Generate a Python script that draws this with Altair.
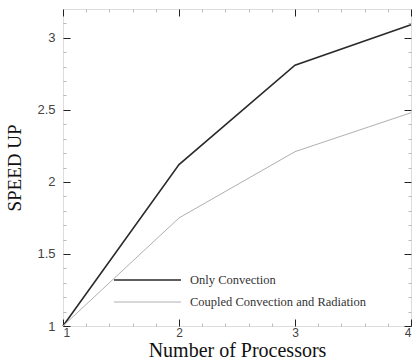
import altair as alt
import pandas as pd

processors = [1, 2, 3, 4]
only_convection = [1.0, 2.12, 2.81, 3.09]
coupled = [1.0, 1.75, 2.21, 2.48]
series_names = ["Only Convection", "Coupled Convection and Radiation"]

rows = []
for p, v in zip(processors, only_convection):
    rows.append({"p": p, "s": v, "series": series_names[0]})
for p, v in zip(processors, coupled):
    rows.append({"p": p, "s": v, "series": series_names[1]})
df = pd.DataFrame(rows)

x_major = [1, 2, 3, 4]
y_major = [1, 1.5, 2, 2.5, 3]
x_minor = [1.2, 1.4, 1.6, 1.8, 2.2, 2.4, 2.6, 2.8, 3.2, 3.4, 3.6, 3.8]
y_minor = [1.1, 1.2, 1.3, 1.4, 1.6, 1.7, 1.8, 1.9, 2.1, 2.2, 2.3, 2.4, 2.6, 2.7, 2.8, 2.9, 3.1]

xs = alt.Scale(domain=[1, 4], nice=False, zero=False)
ys = alt.Scale(domain=[1, 3.2], nice=False, zero=False)

base = alt.Chart(df)

main = base.mark_line().encode(
    x=alt.X("p:Q", scale=xs, axis=alt.Axis(
        title="Number of Processors", values=x_major, ticks=False, domain=False, format="~g",
        labelFont="Liberation Sans", labelFontSize=12, labelColor="#444",
        labelPadding=1, titleFont="Liberation Serif", titleFontSize=20,
        titleFontWeight="normal", titleColor="#111", titlePadding=2, grid=False)),
    y=alt.Y("s:Q", scale=ys, axis=alt.Axis(
        title="SPEED UP", values=y_major, ticks=False, domain=False, format="~g",
        labelFont="Liberation Sans", labelFontSize=13, labelColor="#444",
        labelPadding=8, titleFont="Liberation Serif", titleFontSize=19,
        titleFontWeight="normal", titleColor="#111", titlePadding=12, grid=False)),
    color=alt.Color("series:N", scale=alt.Scale(domain=series_names, range=["#2a2a2a", "#b0b0b0"]),
                    legend=alt.Legend(title=None, orient="none", legendX=50, legendY=260,
                                      symbolType="stroke", symbolSize=4489, symbolStrokeWidth=1.5,
                                      clipHeight=22, labelFont="Liberation Serif", labelFontSize=12.5,
                                      labelColor="#333", labelOffset=8, labelLimit=400, rowPadding=0)),
    strokeWidth=alt.StrokeWidth("series:N", scale=alt.Scale(domain=series_names, range=[1.6, 1.0]), legend=None),
)

def tick_layer(xvals, yvals, xorient, yorient, size):
    return base.mark_point(opacity=0).encode(
        x=alt.X("p:Q", scale=xs, axis=alt.Axis(
            orient=xorient, values=xvals, labels=False, domain=False, title=None, grid=False,
            tickSize=size, offset=-size, tickColor="#222", tickWidth=1)),
        y=alt.Y("s:Q", scale=ys, axis=alt.Axis(
            orient=yorient, values=yvals, labels=False, domain=False, title=None, grid=False,
            tickSize=size, offset=-size, tickColor="#222", tickWidth=1)),
    )

minor_layers = []
for xo, yo in [("bottom", "left"), ("top", "right")]:
    minor_layers.append(base.mark_point(opacity=0).encode(
        x=alt.X("p:Q", scale=xs, axis=alt.Axis(
            orient=xo, values=x_minor, labels=False, domain=False, title=None, grid=False,
            tickSize=3, offset=-3, tickColor="#aaa", tickWidth=0.8)),
        y=alt.Y("s:Q", scale=ys, axis=alt.Axis(
            orient=yo, values=y_minor, labels=False, domain=False, title=None, grid=False,
            tickSize=3, offset=-3, tickColor="#aaa", tickWidth=0.8)),
    ))

chart = alt.layer(
    main,
    tick_layer(x_major, y_major, "bottom", "left", 7),
    tick_layer(x_major, y_major, "top", "right", 7),
    *minor_layers,
).resolve_axis(x="independent", y="independent").properties(
    width=348, height=317,
    autosize=alt.AutoSizeParams(type="none"),
    padding={"left": 63, "top": 9, "right": 2, "bottom": 37},
).configure_view(stroke="#222", strokeWidth=1.3).configure(background="white")

chart.save("out.html", embed_options={"renderer": "svg", "actions": False})
